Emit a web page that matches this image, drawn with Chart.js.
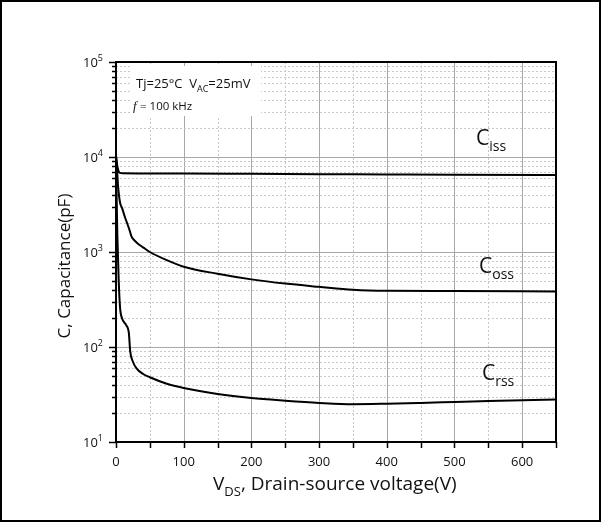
<!DOCTYPE html>
<html>
<head>
<meta charset="utf-8">
<script src="https://cdn.jsdelivr.net/npm/chart.js@4"></script>
<style>
  html, body { margin: 0; padding: 0; background: #fff; }
  #wrap { width: 601px; height: 522px; }
</style>
</head>
<body>
<div id="wrap"><canvas id="grafico_Cap" width="601" height="522"></canvas></div>
<script>
// capacitance vs drain-source voltage
const vCiss = [0, 2, 4, 6, 10, 50, 100, 200, 300, 400, 500, 650];
const ciss  = [10000, 8000, 7000, 6800, 6750, 6720, 6700, 6650, 6600, 6550, 6500, 6450];

const vCoss = [0, 1, 3, 6, 9, 13, 16, 20, 23, 27, 32, 40, 50, 75, 100, 150, 200, 250, 300, 350, 400, 500, 650];
const coss  = [10500, 8700, 5000, 3300, 2900, 2350, 2050, 1700, 1450, 1330, 1230, 1120, 1000, 820, 700, 590, 515, 465, 430, 400, 390, 388, 385];

const vCrss = [0, 2, 4, 6, 9, 15, 19, 21, 25, 30, 40, 50, 75, 100, 150, 200, 250, 300, 350, 400, 450, 500, 550, 600, 650];
const crss  = [9000, 1500, 500, 260, 200, 170, 140, 90, 70, 60, 52, 48, 41, 37, 32, 29, 27.2, 25.8, 25, 25.3, 25.8, 26.4, 27, 27.5, 28];

const xTickLabels = [0, 100, 200, 300, 400, 500, 600];
const yDecades = [1, 2, 3, 4, 5];

const FONT = "'Open Sans', 'Noto Sans', sans-serif";

function pts(xs, ys) { return xs.map((v, i) => ({ x: v, y: ys[i] })); }

function subText(ctx, x, y, main, sub, rest, size, subSize) {
  ctx.font = size + 'px ' + FONT;
  ctx.fillText(main, x, y);
  let w = ctx.measureText(main).width;
  ctx.font = subSize + 'px ' + FONT;
  ctx.fillText(sub, x + w, y + size * 0.3);
  w += ctx.measureText(sub).width;
  if (rest) {
    ctx.font = size + 'px ' + FONT;
    ctx.fillText(rest, x + w, y);
  }
}

const decor = {
  id: 'decor',
  beforeDatasetsDraw(chart) {
    const { ctx, chartArea: a, scales: { x, y } } = chart;
    ctx.save();
    ctx.lineWidth = 1;
    // vertical grid
    for (let v = 50; v < 650; v += 50) {
      const px = Math.round(x.getPixelForValue(v)) + 0.5;
      const major = v % 100 === 0;
      ctx.strokeStyle = major ? '#a8a8a8' : '#c8c8c8';
      ctx.setLineDash(major ? [] : [2, 2]);
      ctx.beginPath(); ctx.moveTo(px, a.top); ctx.lineTo(px, a.bottom); ctx.stroke();
    }
    // horizontal grid
    for (let d = 1; d <= 4; d++) {
      for (let m = 1; m <= 9; m++) {
        if (d === 1 && m === 1) continue;
        const py = Math.round(y.getPixelForValue(m * Math.pow(10, d))) + 0.5;
        const major = m === 1;
        ctx.strokeStyle = major ? '#a8a8a8' : '#c8c8c8';
        ctx.setLineDash(major ? [] : [2, 2]);
        ctx.beginPath(); ctx.moveTo(a.left, py); ctx.lineTo(a.right, py); ctx.stroke();
      }
    }
    ctx.setLineDash([]);
    // condition box
    ctx.fillStyle = '#fff';
    ctx.fillRect(131, 66, 130, 50);
    ctx.fillStyle = '#111';
    ctx.textBaseline = 'alphabetic';
    ctx.textAlign = 'left';
    subText(ctx, 136, 88, 'Tj=25°C  V', 'AC', '=25mV', 13, 9);
    ctx.font = "italic 13px 'Liberation Serif', serif";
    ctx.fillText('f', 133, 110);
    ctx.font = '11.5px ' + FONT;
    ctx.fillText('= 100 kHz', 140, 110);
    ctx.restore();
  },
  afterDatasetsDraw(chart) {
    const { ctx, chartArea: a, scales: { x, y } } = chart;
    ctx.save();
    // frame
    ctx.strokeStyle = '#000';
    ctx.lineWidth = 2;
    ctx.strokeRect(a.left, a.top, a.right - a.left, a.bottom - a.top);
    // x ticks
    ctx.lineWidth = 1.5;
    for (let v = 0; v <= 650; v += 50) {
      const px = Math.round(x.getPixelForValue(v)) + 0.5;
      ctx.beginPath(); ctx.moveTo(px, a.bottom); ctx.lineTo(px, a.bottom + 6); ctx.stroke();
    }
    // y ticks
    for (let d = 1; d <= 5; d++) {
      for (let m = 1; m <= 9; m++) {
        if (d === 5 && m > 1) continue;
        const py = Math.round(y.getPixelForValue(m * Math.pow(10, d))) + 0.5;
        const len = m === 1 ? 7 : 4;
        ctx.beginPath(); ctx.moveTo(a.left, py); ctx.lineTo(a.left - len, py); ctx.stroke();
      }
    }
    ctx.fillStyle = '#111';
    // x tick labels
    ctx.font = '13px ' + FONT;
    ctx.textAlign = 'center';
    ctx.textBaseline = 'alphabetic';
    xTickLabels.forEach(v => ctx.fillText(String(v), x.getPixelForValue(v), 466));
    // y tick labels 10^n
    yDecades.forEach(d => {
      const py = y.getPixelForValue(Math.pow(10, d));
      ctx.textAlign = 'right';
      ctx.font = '9px ' + FONT;
      ctx.fillText(String(d), 103, py - 1);
      const sw = ctx.measureText(String(d)).width;
      ctx.font = '13px ' + FONT;
      ctx.fillText('10', 103 - sw, py + 5);
    });
    // axis titles
    ctx.textAlign = 'left';
    subText(ctx, 213, 490, 'V', 'DS', ', Drain-source voltage(V)', 19, 13);
    ctx.save();
    ctx.translate(70, 266);
    ctx.rotate(-Math.PI / 2);
    ctx.textAlign = 'center';
    ctx.font = '17px ' + FONT;
    ctx.fillText('C, Capacitance(pF)', 0, 0);
    ctx.restore();
    // curve labels
    ctx.textAlign = 'left';
    subText(ctx, 476, 145, 'C', 'iss', '', 21, 14);
    subText(ctx, 479, 273, 'C', 'oss', '', 21, 14);
    subText(ctx, 482, 380, 'C', 'rss', '', 21, 14);
    // outer border
    ctx.lineWidth = 2;
    ctx.strokeRect(1, 1, chart.width - 2, chart.height - 2);
    ctx.restore();
  }
};

const ctx = document.getElementById('grafico_Cap').getContext('2d');

const grafico = new Chart(ctx, {
  type: 'line',
  data: {
    datasets: [
      { label: 'Ciss', data: pts(vCiss, ciss) },
      { label: 'Coss', data: pts(vCoss, coss) },
      { label: 'Crss', data: pts(vCrss, crss) }
    ]
  },
  options: {
    responsive: false,
    animation: false,
    layout: { padding: { left: 116, top: 62, right: 45, bottom: 80 } },
    elements: {
      point: { radius: 0 },
      line: { borderColor: '#000', borderWidth: 2, cubicInterpolationMode: 'monotone', fill: false }
    },
    scales: {
      x: { type: 'linear', min: 0, max: 650, display: false },
      y: { type: 'logarithmic', min: 10, max: 100000, display: false }
    },
    plugins: {
      legend: { display: false },
      tooltip: { enabled: false }
    }
  },
  plugins: [decor]
});
</script>
</body>
</html>
